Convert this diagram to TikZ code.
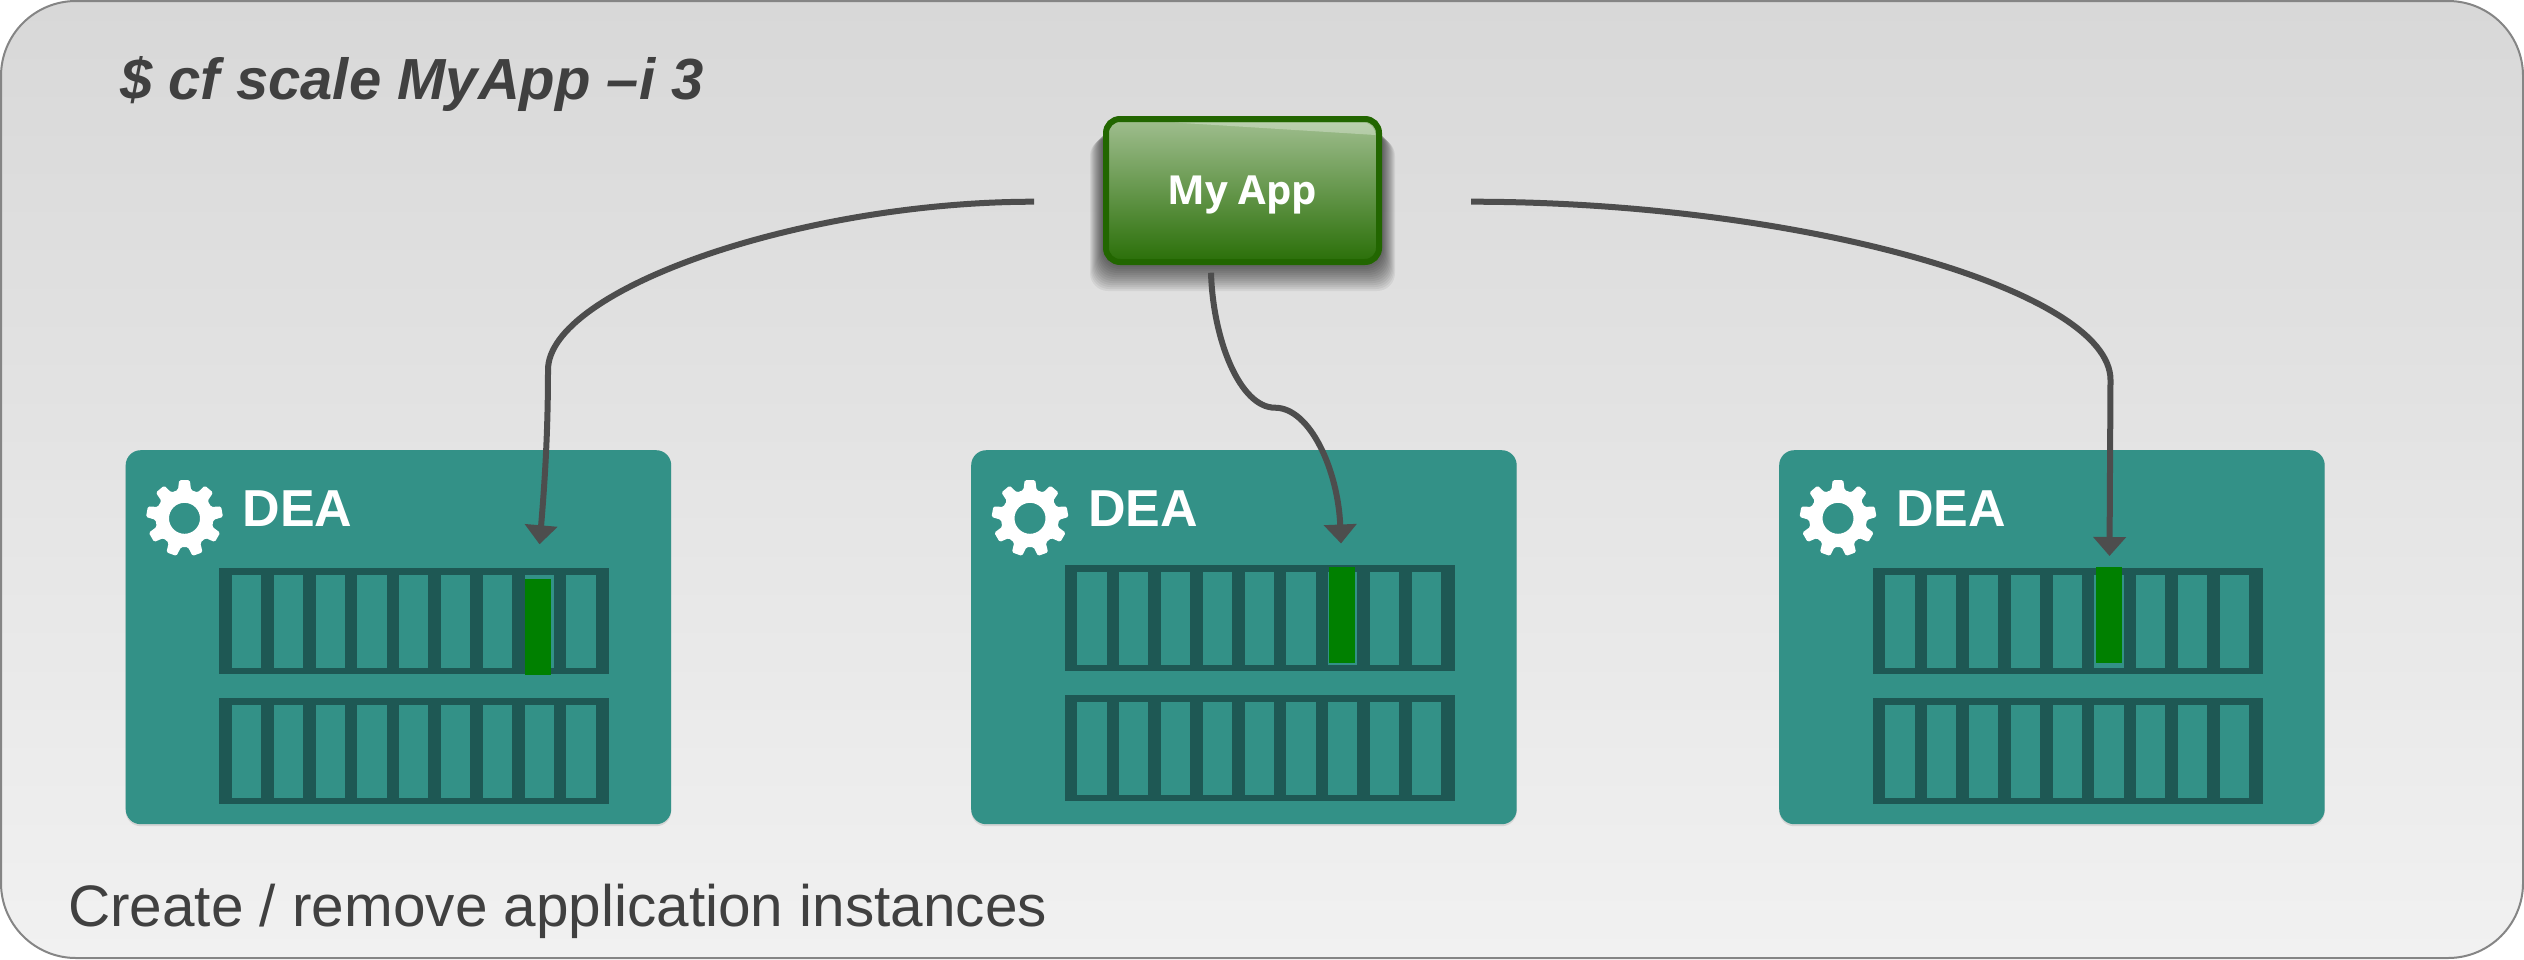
\documentclass[tikz,border=0pt]{standalone}
\usepackage{fontspec}
\setmainfont{Liberation Sans}
\newfontfamily\appfont{Open Sans}
\usetikzlibrary{shadows, arrows.meta, positioning}
\definecolor{frameline}{HTML}{858585}
\definecolor{backtop}{HTML}{D8D8D8}
\definecolor{backbottom}{HTML}{F1F1F1}
\definecolor{deateal}{HTML}{339187}
\definecolor{rackdark}{HTML}{1E5854}
\definecolor{appborder}{HTML}{226600}
\definecolor{apptop}{HTML}{A0BE8F}
\definecolor{appbottom}{HTML}{2A6F08}
\definecolor{wiregrey}{HTML}{4D4D4D}
\definecolor{textgrey}{HTML}{404040}
\tikzset{
    backframe/.style={top color=backtop, bottom color=backbottom, draw=frameline, line width=2pt, rounded corners=75pt, minimum width=2522pt, minimum height=957pt, inner sep=0pt},
    deacard/.style={fill=deateal, rounded corners=15pt, minimum width=545.5pt, minimum height=374pt, inner sep=0pt, anchor=north west, drop shadow={shadow xshift=0pt, shadow yshift=-2pt, opacity=0.22}},
    rackbox/.style={fill=rackdark, minimum width=390pt, minimum height=106pt, inner sep=0pt, anchor=north west},
    slotbox/.style={fill=deateal, minimum width=29.2pt, minimum height=93pt, inner sep=0pt, anchor=north west},
    runbar/.style={fill=green!50!black, minimum width=26pt, minimum height=96.5pt, inner sep=0pt, anchor=north west},
    dealabel/.style={text=white, inner sep=0pt, anchor=base west, font=\fontsize{52}{60}\selectfont\bfseries},
    appbox/.style={top color=apptop, bottom color=appbottom, draw=appborder, line width=6pt, rounded corners=14pt, minimum width=273pt, minimum height=143pt, inner sep=0pt, text=white, text depth=0pt, font=\appfont\fontsize{40}{46}\selectfont\bfseries},
    caption/.style={text=textgrey, inner sep=0pt, anchor=base west, font=\fontsize{58.5}{68}\selectfont},
    wire/.style={draw=wiregrey, line width=6pt},
    wirehead/.style={wire, -{Triangle[width=32pt, length=19pt]}},
    gearicon/.pic={
        \fill[white, even odd rule, rounded corners=1.5pt] ({-90-13}:29)
            \foreach \a in {-90,-50,-10,30,70,110,150,190,230} {
                -- ({\a-13}:29) -- ({\a-8}:38.5) -- ({\a+8}:38.5) -- ({\a+13}:29)
            } -- cycle (0,0) circle (15.5);
    }
}

\begin{document}
\begin{tikzpicture}[x=1pt, y=-1pt]
    \useasboundingbox (0,0) rectangle (2524,959);

    \node[backframe] (frame) at (1262,479.5) {};

    \node[caption, font=\fontsize{58}{68}\selectfont\bfseries\itshape] (command) at (120,99) {\$ cf scale MyApp –i 3};
    \node[caption] (purpose) at (68,926) {Create / remove application instances};

    % the three DEA cards
    \foreach \idx/\cardx/\racky/\barx/\bary in {1/125.5/567.7/525/578.7, 2/971/565/1328.5/566.7, 3/1779/567.7/2096/566.7} {
        \node[deacard] (dea\idx) at (\cardx,450) {};
        \pic (gear\idx) at ({\cardx+59},518.3) {gearicon};
        \node[dealabel] (name\idx) at ({\cardx+117},526.7) {DEA};
        \foreach \r/\rowy in {a/0, b/130} {
            \node[rackbox] (rack\idx\r) at ({\cardx+93.5},{\racky+\rowy}) {};
            \foreach \s in {0,...,8}
                \node[slotbox] (slot\idx\r\s) at ({\cardx+106.2+41.8*\s},{\racky+\rowy+6.6}) {};
        }
        \node[runbar] (bar\idx) at (\barx,\bary) {};
    }

    % soft shadow under the app button
    \foreach \s in {1,...,13}
        \fill[black, opacity=0.055, rounded corners=18pt] ({1103-\s},{125+\s}) rectangle ({1382+\s},{265+2*\s});
    \node[appbox] (myapp) at (1242.5,190.5) {My App};
    \fill[white, opacity=0.3] (1175,122.5) -- (1362,122.5) .. controls (1370,122.5) and (1375,127) .. (1375.5,135) -- cycle;

    \coordinate (appleft) at (1034,201.7);
    \coordinate (appright) at (1471,201.7);
    \coordinate (appdown) at (1211,272.7);
    \coordinate (dropa) at (539.5,544.3);
    \coordinate (dropb) at (1341,543.5);
    \coordinate (dropc) at (2109.5,556);

    \draw[wirehead] (appleft) .. controls (800,201.7) and (548,290) .. (548,370) .. controls (548,430) and (545,480) .. (dropa);
    \draw[wirehead] (appdown) .. controls (1213,340) and (1240,407.7) .. (1275,407.7) .. controls (1310,407.7) and (1338,470) .. (dropb);
    \draw[wirehead] (appright) .. controls (1800,201.7) and (2110.5,290) .. (2110.5,380) -- (dropc);
\end{tikzpicture}
\end{document}
